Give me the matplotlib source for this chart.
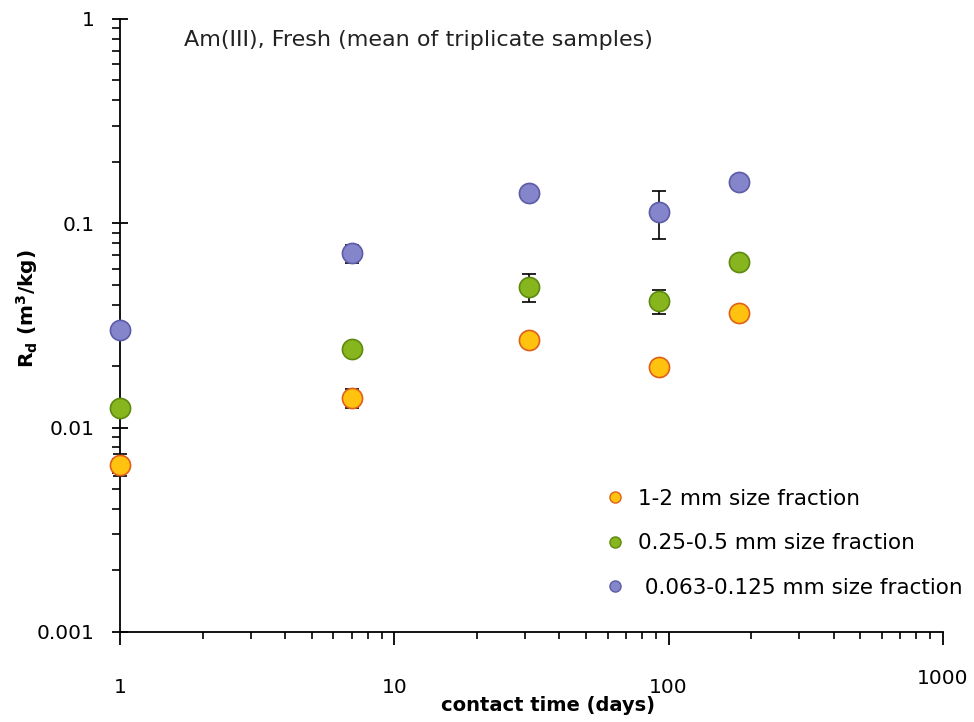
import numpy as np
import matplotlib.pyplot as plt
from matplotlib.ticker import LogLocator, NullFormatter, FixedFormatter, FixedLocator

# contact times (days) and Rd values (m3/kg)
days = [1, 7, 31, 92, 181]

rd_coarse = [0.0066, 0.0140, 0.0269, 0.0198, 0.0366]   # 1-2 mm
err_coarse = [0.0008, 0.0015, 0.0010, 0.0010, 0.0025]

rd_mid = [0.0125, 0.0243, 0.0488, 0.0415, 0.0646]      # 0.25-0.5 mm
err_mid = [0.0008, 0.0010, 0.0075, 0.0055, 0.0020]

rd_fine = [0.0301, 0.0712, 0.1415, 0.1142, 0.1600]     # 0.063-0.125 mm
err_fine = [0.0010, 0.0070, 0.0040, 0.0300, 0.0040]

labels = ['1-2 mm size fraction', '0.25-0.5 mm size fraction', ' 0.063-0.125 mm size fraction']

fig = plt.figure(figsize=(9.74, 7.22), dpi=100)
ax = fig.add_axes([0.1232, 0.1247, 0.968 - 0.1232, 0.9737 - 0.1247])

series = [
    (rd_coarse, err_coarse, '#FFC20E', '#E0601A'),
    (rd_mid, err_mid, '#86B51E', '#5E8A10'),
    (rd_fine, err_fine, '#8585CC', '#5C5CA8'),
]
handles = []
for (vals, errs, fc, ec), lab in zip(series, labels):
    ax.errorbar(days, vals, yerr=errs, fmt='none', ecolor='black', elinewidth=1.2,
                capsize=5, capthick=1.2, zorder=2, clip_on=False)
    ax.plot(days, vals, 'o', ms=14.5, mfc=fc, mec=ec, mew=1.2, zorder=3, clip_on=False)
    h, = ax.plot([], [], 'o', ms=8, mfc=fc, mec=ec, mew=1, label=lab)
    handles.append(h)

ax.set_xscale('log')
ax.set_yscale('log')
ax.set_xlim(1, 1000)
ax.set_ylim(0.001, 1)

for s in ['top', 'right']:
    ax.spines[s].set_visible(False)
for s in ['left', 'bottom']:
    ax.spines[s].set_linewidth(1.3)

ax.yaxis.set_major_locator(FixedLocator([0.001, 0.01, 0.1, 1]))
ax.yaxis.set_major_formatter(FixedFormatter(['0.001', '0.01', '0.1', '1']))
ax.yaxis.set_minor_locator(LogLocator(base=10, subs=np.arange(2, 10)))
ax.yaxis.set_minor_formatter(NullFormatter())
ax.xaxis.set_major_locator(FixedLocator([1, 10, 100, 1000]))
ax.xaxis.set_major_formatter(FixedFormatter(['1', '10', '100', '1000']))
ax.xaxis.set_minor_locator(LogLocator(base=10, subs=np.arange(2, 10)))
ax.xaxis.set_minor_formatter(NullFormatter())

ax.tick_params(axis='y', which='major', direction='inout', length=12, width=1.3,
               labelsize=14.5, pad=12)
ax.tick_params(axis='y', which='minor', direction='out', length=6, width=1.2)
ax.tick_params(axis='x', which='major', direction='out', length=9, width=1.3,
               labelsize=14.5, pad=24)
ax.tick_params(axis='x', which='minor', direction='out', length=5, width=1.2)
# the 1000 label sits a bit higher in the original
ax.get_xticklabels()[-1].set_y(0.015)

ax.set_ylabel(r'R$_\mathregular{d}$ (m$^\mathregular{3}$/kg)', fontsize=14.5, fontweight='bold')
ax.yaxis.set_label_coords(-0.097, 0.528)
ax.set_xlabel('contact time (days)', fontsize=14, fontweight='bold')
ax.xaxis.set_label_coords(0.52, -0.105)

ax.text(0.078, 0.965, 'Am(III), Fresh (mean of triplicate samples)', transform=ax.transAxes,
        fontsize=16, va='center', ha='left', color='#222222')

ax.legend(handles=handles, loc='lower right', bbox_to_anchor=(1.048, 0.024), frameon=False,
          fontsize=15.5, handletextpad=0.5, labelspacing=1.14, handlelength=1.2)

fig.savefig('out.png', dpi=100, facecolor='white')
